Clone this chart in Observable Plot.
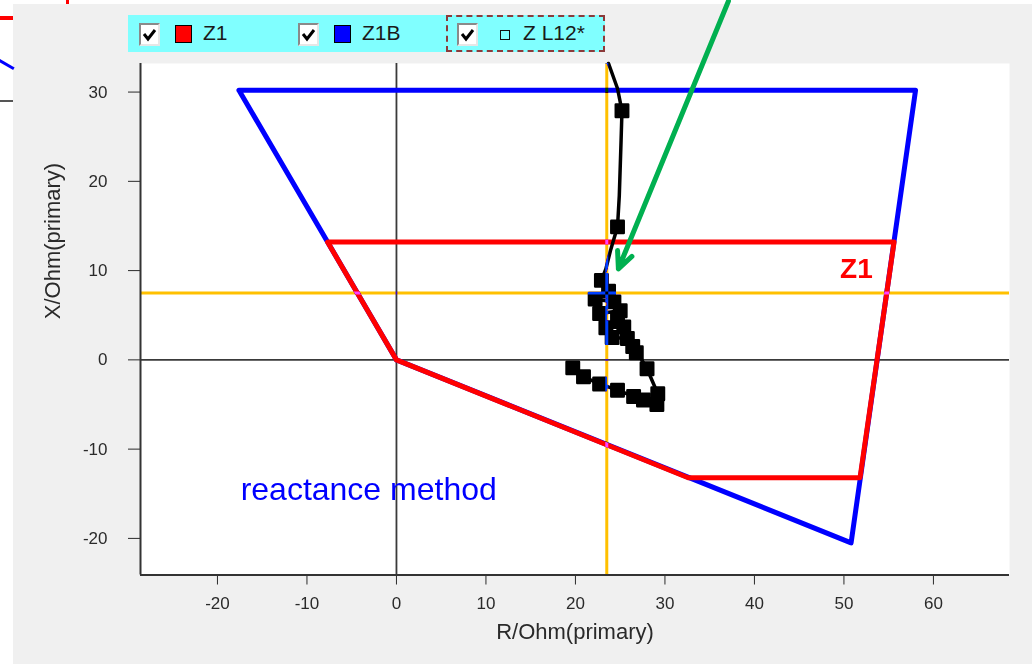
<!DOCTYPE html>
<html>
<head>
<meta charset="utf-8">
<script src="https://cdn.jsdelivr.net/npm/d3@7"></script>
<script src="https://cdn.jsdelivr.net/npm/@observablehq/plot@0.6"></script>
<style>
  html, body { margin: 0; padding: 0; background: #fff; width: 1032px; height: 664px; overflow: hidden;
    font-family: "Liberation Sans", Arial, sans-serif; }
  #panel { position: absolute; left: 13px; top: 4px; right: 0; bottom: 0; background: #f0f0f0; z-index: 0; }
  .frag { position: absolute; z-index: 0; }
  #legend { position: relative; height: 55px; z-index: 1; }
  #legend .bar { position: absolute; left: 128px; top: 15px; width: 477px; height: 37px; background: #80ffff; }
  #legend .dashed { position: absolute; left: 446px; top: 15px; width: 155px; height: 33px; border: 2px dashed #8b3a3a; }
  .cb { position: absolute; top: 23px; width: 17px; height: 19px; background: #fff;
    border-top: 2px solid #8a8a8a; border-left: 2px solid #8a8a8a;
    border-right: 2px solid #e6e6e6; border-bottom: 2px solid #e6e6e6; }
  .cb svg { position: absolute; left: 1px; top: 2px; }
  .sw { position: absolute; top: 25px; width: 15px; height: 16px; border: 1px solid #000; }
  .mk { position: absolute; top: 30px; width: 8px; height: 8px; border: 1.5px solid #111; }
  .lbl { position: absolute; top: 21px; font-size: 21px; line-height: 24px; color: #1a1a1a; white-space: nowrap; }
  #chart { position: relative; z-index: 2; }
  #chart g[aria-label="x-axis"], #chart g[aria-label="y-axis"] { font-size: 17px; }
</style>
</head>
<body>
<div id="panel"></div>
<div class="frag" style="left:0;top:16px;width:13px;height:4px;background:#ff0000"></div>
<div class="frag" style="left:0;top:100px;width:13px;height:1.5px;background:#555"></div>
<div class="frag" style="left:-2px;top:63px;width:17px;height:3px;background:#0000ff;transform:rotate(30deg)"></div>
<div class="frag" style="left:66px;top:0;width:3px;height:4px;background:#ff0000"></div>

<div id="legend">
  <div class="bar"></div>
  <div class="dashed"></div>
  <div class="cb" style="left:139px"><svg width="15" height="15"><polyline points="2,7 6,12 13,3" fill="none" stroke="#000" stroke-width="3"/></svg></div>
  <div class="sw" style="left:175px;background:#ff0000"></div>
  <div class="lbl" style="left:203px">Z1</div>
  <div class="cb" style="left:298px"><svg width="15" height="15"><polyline points="2,7 6,12 13,3" fill="none" stroke="#000" stroke-width="3"/></svg></div>
  <div class="sw" style="left:334px;background:#0000ff"></div>
  <div class="lbl" style="left:362px">Z1B</div>
  <div class="cb" style="left:457px"><svg width="15" height="15"><polyline points="2,7 6,12 13,3" fill="none" stroke="#000" stroke-width="3"/></svg></div>
  <div class="mk" style="left:500px"></div>
  <div class="lbl" style="left:523px">Z L12*</div>
</div>
<div id="chart"></div>

<script>
// Axis extents and ticks (Ohm, primary side)
const xDomain = [-28.6, 68.5];
const yDomain = [-24.1, 33.2];
const xTicks = [-20, -10, 0, 10, 20, 30, 40, 50, 60];
const yTicks = [-20, -10, 0, 10, 20, 30];
const origin = [0];

// Zone Z1 (reactance method) polygon corners, R and X
const z1R = [0, -7.7, 55.6, 51.8, 32.6, 0];
const z1X = [0, 13.2, 13.2, -13.2, -13.2, 0];

// Zone Z1B polygon corners
const z1bR = [-17.6, 58.0, 50.8, 0, -17.6];
const z1bX = [30.2, 30.2, -20.5, 0, 30.2];

// Measured impedance trajectory Z L12*; sampled = drawn with a marker
const trajR = [23.7, 24.7, 25.2, 25.1, 24.9, 24.7, 23.9, 23.4, 22.9, 23.7, 22.2, 24.3, 22.7, 25.0, 24.7, 23.4,
               25.4, 24.1, 25.8, 26.4, 26.8, 27.3, 28.0, 29.2, 29.1, 27.6, 26.5, 24.7, 22.7, 20.9, 19.7];
const trajX = [33.2, 30.4, 27.9, 24.6, 18.4, 14.9, 12.2, 10.2, 8.9, 7.7, 6.8, 6.5, 5.2, 5.5, 4.6, 3.6,
               3.7, 2.5, 2.4, 1.5, 0.8, 0.2, -1.0, -3.8, -5.0, -4.5, -4.1, -3.4, -2.7, -1.9, -0.9];
const trajSampled = [false, false, true, false, false, true, false, false, true, true, true, true, true, true, true, true,
                     true, true, true, true, true, false, true, true, true, true, true, true, true, true, true];

// Fault impedance crosshair
const faultR = [23.5];
const faultX = [7.5];

// Annotation pointer (tail -> head) in R/X
const pointerR = [37.1, 24.8];
const pointerX = [40.2, 10.2];

// Annotation texts
const zoneLabel = [{r: 51.4, x: 10.2, text: "Z1"}];
const methodLabel = [{r: -3.1, x: -14.5, text: "reactance method"}];
const xTitle = ["R/Ohm(primary)"];
const yTitle = ["X/Ohm(primary)"];

const z1 = z1R.map((r, i) => ({r, x: z1X[i]}));
const z1b = z1bR.map((r, i) => ({r, x: z1bX[i]}));
const traj = trajR.map((r, i) => ({r, x: trajX[i], sampled: trajSampled[i]}));
const pointer = [{r1: pointerR[0], x1: pointerX[0], r2: pointerR[1], x2: pointerX[1]}];

const font = "'Liberation Sans', Arial, sans-serif";

const chart = Plot.plot({
  width: 1032,
  height: 609,
  marginTop: 8,
  marginBottom: 89.5,
  marginLeft: 140,
  marginRight: 23,
  style: {background: "transparent", overflow: "visible", color: "#2a2a2a", fontFamily: font, fontSize: "17px"},
  x: {domain: xDomain, ticks: xTicks, tickSize: 10, tickPadding: 12, tickFormat: d => String(d), label: null},
  y: {domain: yDomain, ticks: yTicks, tickSize: 12, tickPadding: 21, tickFormat: d => String(d), label: null},
  marks: [
    Plot.frame({fill: "white", stroke: "none"}),
    Plot.ruleX(origin, {stroke: "#3a3a3a", strokeWidth: 1.8}),
    Plot.ruleY(origin, {stroke: "#3a3a3a", strokeWidth: 1.8}),
    Plot.text(methodLabel, {x: "r", y: "x", text: "text", fill: "#0000ff", fontSize: 32, fontFamily: font}),
    Plot.line(z1b, {x: "r", y: "x", stroke: "#0000ff", strokeWidth: 5, strokeLinejoin: "round", curve: "linear"}),
    Plot.line(z1, {x: "r", y: "x", stroke: "#ff0000", strokeWidth: 5, strokeLinejoin: "round", curve: "linear"}),
    Plot.line(traj, {x: "r", y: "x", stroke: "#000", strokeWidth: 3.5, strokeLinejoin: "round"}),
    Plot.dot(traj.filter(d => d.sampled), {x: "r", y: "x", symbol: "square", r: 7, fill: "#000", stroke: "#000", strokeWidth: 2.5, strokeLinejoin: "round"}),
    Plot.ruleX(faultR, {stroke: "#003fff", strokeWidth: 3, mixBlendMode: "difference"}),
    Plot.ruleY(faultX, {stroke: "#003fff", strokeWidth: 3, mixBlendMode: "difference"}),
    Plot.text(zoneLabel, {x: "r", y: "x", text: "text", fill: "#ff0000", fontSize: 28, fontWeight: "bold", fontFamily: font}),
    Plot.arrow(pointer, {x1: "r1", y1: "x1", x2: "r2", y2: "x2", stroke: "#00b050", strokeWidth: 5, headLength: 5.5, headAngle: 50}),
    Plot.ruleX([xDomain[0]], {stroke: "#333", strokeWidth: 2}),
    Plot.ruleY([yDomain[0]], {stroke: "#333", strokeWidth: 2}),
    Plot.text(xTitle, {frameAnchor: "bottom", text: d => d, dy: 64, fontSize: 22, fill: "#2a2a2a", fontFamily: font}),
    Plot.text(yTitle, {frameAnchor: "left", text: d => d, dx: -88, rotate: -90, fontSize: 22, fill: "#2a2a2a", fontFamily: font})
  ]
});

document.getElementById("chart").appendChild(chart);
</script>
</body>
</html>
